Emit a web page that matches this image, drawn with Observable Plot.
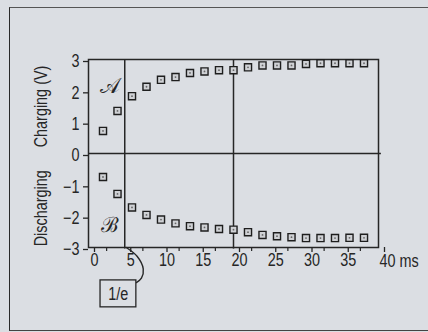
<!DOCTYPE html>
<html>
<head>
<meta charset="utf-8">
<script src="https://cdn.jsdelivr.net/npm/d3@7"></script>
<script src="https://cdn.jsdelivr.net/npm/@observablehq/plot@0.6"></script>
<style>
  html, body { margin: 0; padding: 0; background: #dbdee3; width: 428px; height: 332px; overflow: hidden; }
  #wrap { position: relative; width: 428px; height: 332px; }
  #border { position: absolute; left: 9px; top: 7px; width: 460px; height: 322px;
            border-left: 1.5px solid #2a2a2a; border-top: 1.5px solid #555; border-bottom: 1.5px solid #444; }
  #chart { position: absolute; left: 0; top: 0; }
</style>
</head>
<body>
<div id="wrap"><div id="border"></div><div id="chart"></div></div>
<script>
// time (ms)
const time = [2,4,6,8,10,12,14,16,18,20,22,24,26,28,30,32,34,36,38];
// charging voltage (V)
const charging = [0.72,1.36,1.83,2.13,2.35,2.44,2.57,2.62,2.66,2.66,2.75,2.81,2.81,2.81,2.86,2.88,2.88,2.88,2.88];
// discharging voltage (V)
const discharging = [-0.75,-1.29,-1.72,-1.96,-2.11,-2.23,-2.32,-2.36,-2.41,-2.43,-2.51,-2.60,-2.64,-2.67,-2.70,-2.70,-2.70,-2.69,-2.69];
const xTicks = [0,5,10,15,20,25,30,35,40];
const xMinorTicks = [2.5,7.5,12.5,17.5,22.5,27.5,32.5,37.5];
const yTicks = [-3,-2,-1,0,1,2,3];
const markerLines = [5,20];
const regionLabels = [{x: 2.9, y: 2.15, t: "𝒜"}, {x: 3.0, y: -2.3, t: "ℬ"}];
const axisTitles = [{x: -6.5, y: 1.5, t: "Charging (V)"}, {x: -6.5, y: -1.75, t: "Discharging"}];
const unitLabel = [{x: 40, y: -3, t: "40 ms"}];
const annotation = [{x: 4.1, y: -4.5, t: "1/e", x1: 1.66, x2: 6.6, y1: -4.05, y2: -4.91}];
const arc = [{x:5.2,y:-3.0},{x:6.7,y:-3.28},{x:7.55,y:-3.68},{x:7.3,y:-3.98},{x:6.6,y:-4.12}];

const charge = time.map((t,i) => ({t, v: charging[i]}));
const discharge = time.map((t,i) => ({t, v: discharging[i]}));
const pts = charge.concat(discharge);

const FONT = "'Liberation Sans', Arial, sans-serif";
const INK = "#262626";

const chart = Plot.plot({
  width: 428, height: 332,
  marginLeft: 88, marginRight: 50, marginTop: 59, marginBottom: 85,
  style: {background: "transparent", fontFamily: FONT, fontSize: "18px", color: INK},
  x: {type: "linear", domain: [0,40]},
  y: {type: "linear", domain: [-3,3]},
  marks: [
    Plot.frame({stroke: INK, strokeWidth: 1.5}),
    Plot.ruleY([0], {x1: 0, x2: 40.4, stroke: INK, strokeWidth: 1.5}),
    Plot.ruleX(markerLines, {y1: -3.05, y2: 3, stroke: INK, strokeWidth: 1.5}),
    Plot.axisY({ticks: yTicks, tickSize: 5, tickPadding: 4, fontSize: 18, stroke: INK, strokeWidth: 1.3, label: null, dy: 2,
                tickFormat: d => d < 0 ? "\u2212" + Math.abs(d) : String(d)}),
    Plot.axisX({ticks: xTicks, tickSize: 5, tickPadding: 1, fontSize: 18, stroke: INK, strokeWidth: 1.3, label: null, dx: 6,
                tickFormat: d => d === 40 ? "" : String(d)}),
    Plot.axisX({ticks: xMinorTicks, tickSize: 4, text: null, stroke: INK, strokeWidth: 1.2, label: null}),
    Plot.text(unitLabel, {x: "x", y: "y", text: "t", textAnchor: "start", dx: 1, dy: 14, fontSize: 18, fill: INK}),
    Plot.dot(pts, {x: "t", y: "v", symbol: "square", r: 4, stroke: "#1e1e1e", strokeWidth: 1.4, fill: "#cfd1d5"}),
    Plot.dot(pts, {x: "t", y: "v", r: 0.9, fill: "#666", stroke: null}),
    Plot.text(regionLabels, {x: "x", y: "y", text: "t", fontSize: 21, fontFamily: "'DejaVu Serif', serif", fill: INK, className: "script"}),
    Plot.text(axisTitles, {x: "x", y: "y", text: "t", rotate: -90, fontSize: 18, fill: INK}),
    Plot.line(arc, {x: "x", y: "y", curve: "catmull-rom", stroke: INK, strokeWidth: 1.4}),
    Plot.rect(annotation, {x1: "x1", x2: "x2", y1: "y1", y2: "y2", fill: "#dbdee3", stroke: INK, strokeWidth: 1.3}),
    Plot.text(annotation, {x: "x", y: "y", text: "t", fontSize: 18, fill: INK})
  ]
});
document.getElementById("chart").appendChild(chart);
// the reference uses a condensed sans: narrow the glyphs of the plain labels
d3.select(chart).selectAll("text").each(function() {
  if (this.closest(".script")) return;
  const len = this.getComputedTextLength();
  if (len > 0) {
    this.setAttribute("textLength", (len * 0.8).toFixed(2));
    this.setAttribute("lengthAdjust", "spacingAndGlyphs");
  }
});
</script>
</body>
</html>
